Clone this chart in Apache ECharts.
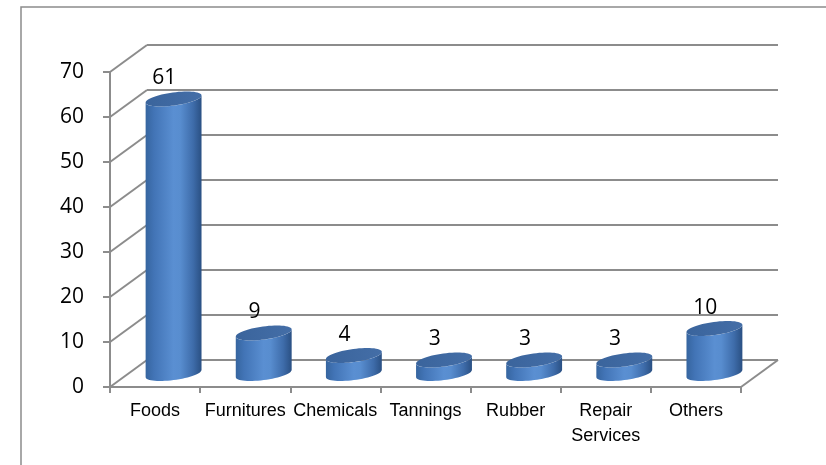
<!DOCTYPE html>
<html>
<head>
<meta charset="utf-8">
<script src="https://cdn.jsdelivr.net/npm/echarts@6/dist/echarts.min.js"></script>
<style>
html,body{margin:0;padding:0;background:#fff;}
#chart{width:826px;height:465px;}
</style>
</head>
<body>
<div id="chart"></div>
<script>
// ---- data ----
var categories = ['Foods', 'Furnitures', 'Chemicals', 'Tannings', 'Rubber', 'Repair\nServices', 'Others'];
var values = [61, 9, 4, 3, 3, 3, 10];
var yTicks = [0, 10, 20, 30, 40, 50, 60, 70];

// ---- style constants (3D depth offset in px) ----
var DX = 37, DY = -27;
var GRID_COLOR = '#8c8c8c';
var RY = 7.5;

var chart = echarts.init(document.getElementById('chart'));

function ellipsePts(cx, cy, rx, ry, kx, t0, t1, n) {
  var pts = [];
  for (var k = 0; k <= n; k++) {
    var t = t0 + (t1 - t0) * k / n;
    pts.push([cx + rx * Math.cos(t) + kx * Math.sin(t), cy - ry * Math.sin(t)]);
  }
  return pts;
}

var option = {
  animation: false,
  backgroundColor: '#ffffff',
  graphic: [{
    type: 'rect',
    shape: { x: 21, y: 7, width: 900, height: 600 },
    style: { fill: 'none', stroke: GRID_COLOR, lineWidth: 1.5 },
    z: -10
  }],
  grid: { left: 110, right: 85, top: 72, bottom: 78 },
  xAxis: {
    type: 'category',
    data: categories,
    boundaryGap: true,
    axisLine: { show: true, lineStyle: { color: GRID_COLOR, width: 2 } },
    axisTick: { show: true, length: 6, interval: 0, lineStyle: { color: GRID_COLOR, width: 2 } },
    axisLabel: {
      interval: 0, margin: 12, color: '#000',
      fontFamily: '"Liberation Sans", Arial, sans-serif',
      fontSize: 18, lineHeight: 25
    },
    splitLine: { show: false }
  },
  yAxis: {
    type: 'value',
    min: 0, max: 70, interval: 10,
    axisLine: { show: true, lineStyle: { color: GRID_COLOR, width: 2 } },
    axisTick: { show: true, length: 7, lineStyle: { color: GRID_COLOR, width: 2 } },
    axisLabel: {
      margin: 26, color: '#000',
      fontFamily: '"Open Sans", sans-serif', fontSize: 21
    },
    splitLine: { show: false }
  },
  series: [
    {
      type: 'custom',
      name: 'frame',
      z: 1,
      silent: true,
      data: yTicks.map(function (v) { return [0, v]; }),
      renderItem: function (params, api) {
        var v = api.value(1);
        var cs = params.coordSys;
        var p = api.coord([0, v]);
        var x0 = cs.x, x1 = cs.x + cs.width, y = p[1];
        var children = [
          { type: 'line', shape: { x1: x0, y1: y, x2: x0 + DX, y2: y + DY },
            style: { stroke: GRID_COLOR, lineWidth: 2 } },
          { type: 'line', shape: { x1: x0 + DX, y1: y + DY, x2: x1 + DX, y2: y + DY },
            style: { stroke: GRID_COLOR, lineWidth: 2 } }
        ];
        if (v === 0) {
          children.push({ type: 'line', shape: { x1: x1, y1: y, x2: x1 + DX, y2: y + DY },
            style: { stroke: GRID_COLOR, lineWidth: 2 } });
        }
        return { type: 'group', children: children };
      }
    },
    {
      type: 'custom',
      name: 'cylinders',
      z: 5,
      data: values.map(function (v, i) { return [i, v]; }),
      renderItem: function (params, api) {
        var i = api.value(0), v = api.value(1);
        var base = api.coord([i, 0]);
        var top = api.coord([i, v]);
        var bw = api.size([1, 0])[0];
        var halfW = bw * 0.31;
        var kx = RY * DX / (-DY) * 1.3;
        var rx = Math.sqrt(halfW * halfW - kx * kx);
        var cx = base[0] + DX * 0.5;
        var cyB = base[1] + DY * 0.5;
        var cyT = top[1] + DY * 0.5;
        var t0 = Math.atan2(kx, rx);
        var topFront = ellipsePts(cx, cyT, rx, RY, kx, t0 + Math.PI, t0 + 2 * Math.PI, 30);
        var botFront = ellipsePts(cx, cyB, rx, RY, kx, t0 + Math.PI, t0 + 2 * Math.PI, 30).reverse();
        var body = topFront.concat(botFront);
        var topFace = ellipsePts(cx, cyT, rx, RY, kx, 0, 2 * Math.PI, 60);
        return {
          type: 'group',
          children: [
            {
              type: 'polygon',
              shape: { points: body },
              style: {
                fill: new echarts.graphic.LinearGradient(0, 0, 1, 0, [
                  { offset: 0, color: '#36659f' },
                  { offset: 0.15, color: '#4274b6' },
                  { offset: 0.5, color: '#5a8fd2' },
                  { offset: 0.62, color: '#588dcf' },
                  { offset: 0.85, color: '#3e6caa' },
                  { offset: 1, color: '#2a5083' }
                ])
              }
            },
            {
              type: 'polygon',
              shape: { points: topFace },
              style: {
                fill: new echarts.graphic.LinearGradient(0, 0, 1, 0, [
                  { offset: 0, color: '#3a649c' },
                  { offset: 1, color: '#446ea7' }
                ])
              }
            },
            {
              type: 'text',
              style: {
                x: base[0] + DX * 0.25,
                y: cyT - RY - 13,
                text: String(v),
                fill: '#000',
                fontFamily: '"Open Sans", sans-serif',
                fontSize: 21,
                align: 'center',
                verticalAlign: 'middle'
              }
            }
          ]
        };
      }
    }
  ]
};
chart.setOption(option);
</script>
</body>
</html>
